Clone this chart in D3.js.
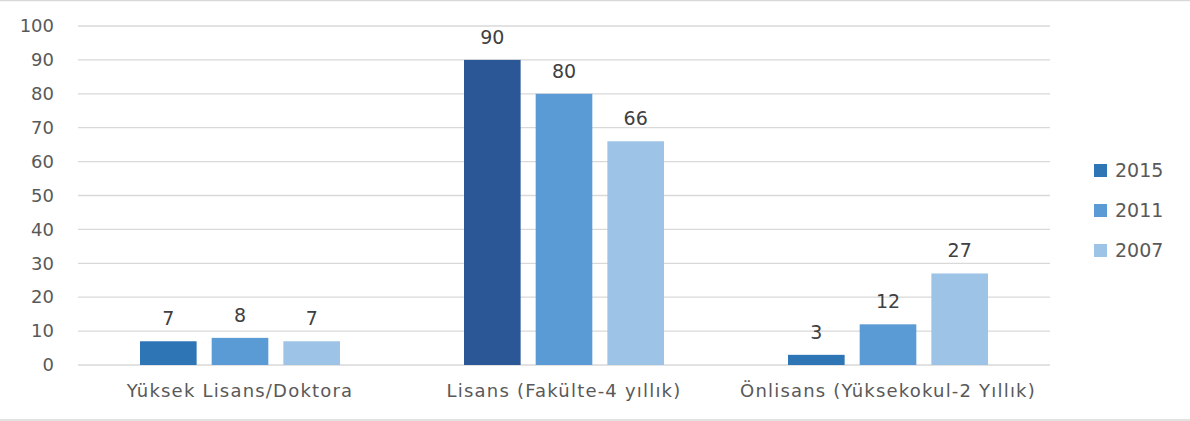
<!DOCTYPE html>
<html>
<head>
<meta charset="utf-8">
<script src="https://cdn.jsdelivr.net/npm/d3@7"></script>
<style>
  body { margin: 0; background: #fff; }
  text { font-family: "DejaVu Sans", "Noto Sans", sans-serif; }
</style>
</head>
<body>
<div id="chart"></div>
<script>
// chart data
var categories = ["Yüksek Lisans/Doktora", "Lisans (Fakülte-4 yıllık)", "Önlisans (Yüksekokul-2 Yıllık)"];
var years = ["2015", "2011", "2007"];
var values2015 = [7, 90, 3];
var values2011 = [8, 80, 12];
var values2007 = [7, 66, 27];
var yTicks = [0, 10, 20, 30, 40, 50, 60, 70, 80, 90, 100];

var svgWidth = 1190;
var svgHeight = 421;
var margin = {top: 26, right: 140, bottom: 56, left: 78};
var chartWidth = svgWidth - margin.left - margin.right;
var chartHeight = svgHeight - margin.top - margin.bottom;

var colors = {"2015": "#2E75B6", "2011": "#5B9BD5", "2007": "#9DC3E6"};
// the Lisans 2015 bar is shaded darker in the original
var pointOverride = {"Lisans (Fakülte-4 yıllık)|2015": "#2B5797"};

var seriesValues = {"2015": values2015, "2011": values2011, "2007": values2007};

var svg = d3.select("#chart").append("svg")
            .attr("width", svgWidth)
            .attr("height", svgHeight);

// outer frame lines (top & bottom)
svg.append("line").attr("x1", 0).attr("x2", svgWidth).attr("y1", 0.5).attr("y2", 0.5)
   .attr("stroke", "#d9d9d9").attr("stroke-width", 1.5);
svg.append("line").attr("x1", 0).attr("x2", svgWidth).attr("y1", 420).attr("y2", 420)
   .attr("stroke", "#d9d9d9").attr("stroke-width", 1.5);

var chartGroup = svg.append("g")
                    .attr("transform", `translate(${margin.left}, ${margin.top})`);

var xScale = d3.scaleBand()
               .domain(categories)
               .range([0, chartWidth]);

var xInner = d3.scaleBand()
               .domain(years)
               .range([62, xScale.bandwidth() - 62])
               .paddingInner(0.21);

var yScale = d3.scaleLinear()
               .domain([0, 100])
               .range([chartHeight, 0]);

// gridlines
chartGroup.append("g")
          .selectAll("line")
          .data(yTicks)
          .enter()
          .append("line")
          .attr("x1", 0)
          .attr("x2", chartWidth)
          .attr("y1", d => yScale(d))
          .attr("y2", d => yScale(d))
          .attr("stroke", "#d9d9d9")
          .attr("stroke-width", 1.3);

// y axis labels
var leftAxis = d3.axisLeft(yScale).tickValues(yTicks).tickSize(0).tickPadding(24);
var yAxisG = chartGroup.append("g").call(leftAxis);
yAxisG.select(".domain").remove();
yAxisG.selectAll("text")
      .attr("fill", "#595959")
      .style("font-size", "18px");

// x axis labels
var bottomAxis = d3.axisBottom(xScale).tickSize(0).tickPadding(19);
var xAxisG = chartGroup.append("g")
                       .attr("transform", `translate(0, ${chartHeight})`)
                       .call(bottomAxis);
xAxisG.select(".domain").remove();
xAxisG.selectAll("text")
      .attr("fill", "#595959")
      .style("font-size", "18px")
      .style("letter-spacing", "1.2px");

// flatten data for bars
var barData = [];
categories.forEach((cat, i) => {
  years.forEach(yr => {
    barData.push({cat: cat, year: yr, value: seriesValues[yr][i]});
  });
});

chartGroup.selectAll("rect.bar")
          .data(barData)
          .enter()
          .append("rect")
          .attr("class", "bar")
          .attr("x", d => xScale(d.cat) + xInner(d.year))
          .attr("y", d => yScale(d.value))
          .attr("width", xInner.bandwidth())
          .attr("height", d => chartHeight - yScale(d.value))
          .attr("fill", d => pointOverride[d.cat + "|" + d.year] || colors[d.year]);

// value labels
chartGroup.selectAll("text.val")
          .data(barData)
          .enter()
          .append("text")
          .attr("class", "val")
          .attr("x", d => xScale(d.cat) + xInner(d.year) + xInner.bandwidth() / 2)
          .attr("y", d => yScale(d.value) - 16)
          .attr("text-anchor", "middle")
          .attr("fill", "#404040")
          .style("font-size", "19px")
          .text(d => d.value);

// legend
var legend = svg.append("g")
                .attr("transform", "translate(1094, 170)");

var legendItems = legend.selectAll("g")
                        .data(years)
                        .enter()
                        .append("g")
                        .attr("transform", (d, i) => `translate(0, ${i * 40})`);

legendItems.append("rect")
           .attr("x", 0)
           .attr("y", -6)
           .attr("width", 13)
           .attr("height", 13)
           .attr("fill", d => colors[d]);

legendItems.append("text")
           .attr("x", 21)
           .attr("y", 0)
           .attr("dy", "0.35em")
           .attr("fill", "#595959")
           .style("font-size", "19px")
           .text(d => d);
</script>
</body>
</html>
